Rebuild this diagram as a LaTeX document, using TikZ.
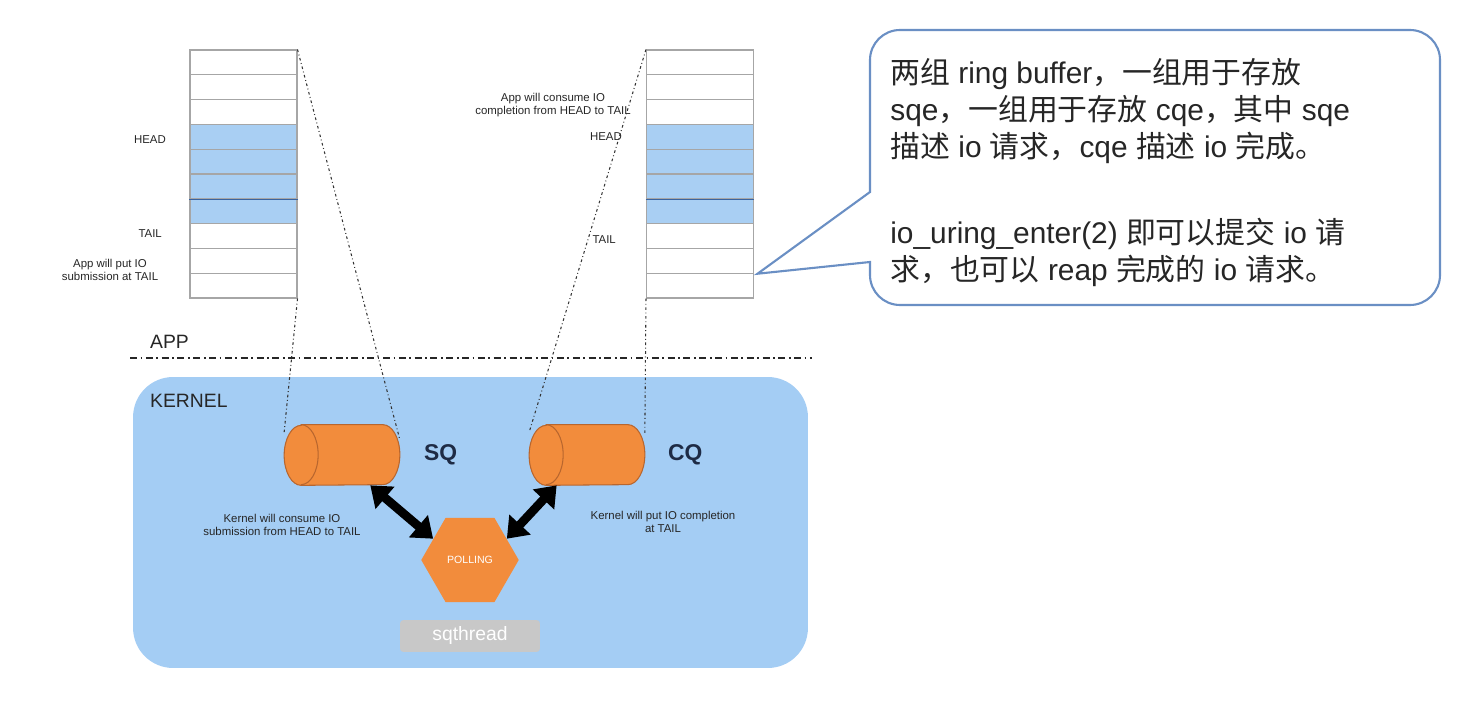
\documentclass[tikz,border=0pt]{standalone}
\usepackage{fontspec}
\setmainfont{Liberation Sans}
\newfontfamily\cjk{Noto Sans CJK SC}
\usepackage{tikz}
\usetikzlibrary{shapes.geometric, arrows.meta, positioning}
\definecolor{kernelblue}{HTML}{A4CDF4}
\definecolor{cellblue}{HTML}{A9CFF3}
\definecolor{celldark}{HTML}{3A64A0}
\definecolor{queueorange}{HTML}{F28C3C}
\definecolor{queueedge}{HTML}{B8662E}
\definecolor{navy}{HTML}{1E2B45}
\definecolor{callblue}{HTML}{6A8FC4}
\definecolor{threadgray}{HTML}{C8C8C8}

% lying cylinder drawn round a named node
\newcommand{\tube}[1]{%
  \draw[draw=queueedge, fill=queueorange, line width=0.6pt]
    ([xshift=0.34cm]#1.north west) -- ([xshift=-0.34cm]#1.north east)
    arc[start angle=90, end angle=-90, x radius=0.34cm, y radius=0.6cm]
    -- ([xshift=0.34cm]#1.south west)
    arc[start angle=-90, end angle=-270, x radius=0.34cm, y radius=0.6cm] -- cycle;
  \draw[draw=queueedge, line width=0.6pt] ([xshift=0.34cm]#1.north west)
    arc[start angle=90, end angle=-90, x radius=0.34cm, y radius=0.6cm];
}

\begin{document}
\begin{tikzpicture}[x=0.02cm, y=-0.02cm,
    cell/.style={rectangle, draw=gray!70, fill=white, line width=0.6pt, minimum width=2.14cm, minimum height=0.496cm, inner sep=0pt},
    used/.style={cell, fill=cellblue},
    tiny/.style={font=\fontsize{6.5}{7.5}\selectfont, align=center, text=black!85},
    label/.style={font=\fontsize{11}{13}\selectfont, text=black!85},
    queue/.style={rectangle, minimum width=2.3cm, minimum height=1.2cm, inner sep=0pt},
    qname/.style={font=\fontsize{13}{15}\selectfont\bfseries, text=navy, anchor=west},
    guide/.style={draw=gray!40!black, line width=0.6pt, dash pattern=on 1.5pt off 1.5pt on 0.5pt off 1.5pt},
    bigarrow/.style={{Triangle[length=11pt, width=16pt]}-{Triangle[length=11pt, width=16pt]}, line width=5pt, black},
    callout/.style={draw=callblue, line width=1.2pt, fill=white},
]
\useasboundingbox (0,0) rectangle (1471,702);

% Ring buffers
\foreach \i in {1,...,10} {
    \node[cell] (sq\i) at (243.5, 50+24.8*\i-12.4) {};
    \node[cell] (cq\i) at (700, 50+24.8*\i-12.4) {};
}
\foreach \i in {4,...,7} {
    \node[used] at (sq\i) {};
    \node[used] at (cq\i) {};
}
\draw[celldark, line width=0.8pt] (sq6.south west) -- (sq6.south east);
\draw[celldark, line width=0.8pt] (cq6.south west) -- (cq6.south east);

\node[tiny, anchor=east] (sqhead) at (172,140) {HEAD};
\node[tiny, anchor=east] (sqtail) at (168,234) {TAIL};
\node[tiny] (sqput) at (110,270) {App will put IO\\submission at TAIL};
\node[tiny] (cqeat) at (553,105) {App will consume IO\\completion from HEAD to TAIL};
\node[tiny, anchor=east] (cqhead) at (628,137) {HEAD};
\node[tiny, anchor=east] (cqtail) at (622,240) {TAIL};

% App / kernel split
\node[label, anchor=west] (app) at (144,342) {APP};
\draw[draw=gray!30!black, line width=1.1pt, dash pattern=on 4pt off 2pt on 1pt off 2pt] (130,358) -- (812,358);
\node[rectangle, rounded corners=0.8cm, fill=kernelblue, minimum width=13.5cm, minimum height=5.82cm] (kernel) at (470.5,522.5) {};
\node[label, anchor=west] (kname) at (144,401) {KERNEL};

% Queues
\node[queue] (sqq) at (342,455) {};
\node[queue] (cqq) at (587,455) {};
\tube{sqq}
\tube{cqq}
\node[qname] (sqname) at (418,455) {SQ};
\node[qname] (cqname) at (662,455) {CQ};

\draw[guide] (sq10.south east) -- ([yshift=-0.15cm]sqq.north west);
\draw[guide] (sq1.north east) -- ([yshift=-0.3cm]sqq.north east);
\draw[guide] (cq1.north west) -- ([yshift=-0.15cm]cqq.north west);
\draw[guide] (cq10.south west) -- ([yshift=-0.2cm]cqq.north east);

% Polling thread
\node[regular polygon, regular polygon sides=6, minimum size=1.95cm, fill=queueorange, text=white, inner sep=0pt, font=\fontsize{6}{7}\selectfont] (poll) at (470,560) {POLLING};
\node[rectangle, rounded corners=2pt, fill=threadgray, text=white, minimum width=2.8cm, minimum height=0.64cm, font=\fontsize{11}{13}\selectfont] (thread) at (470,636) {sqthread};

\draw[bigarrow] (sqq.-47) -- (poll.150);
\draw[bigarrow] (cqq.-135) -- (poll.30);

\node[tiny] (kconsume) at (282,525) {Kernel will consume IO\\submission from HEAD to TAIL};
\node[tiny] (kput) at (663,522) {Kernel will put IO completion\\at TAIL};

% Callout
\coordinate (tip) at ([xshift=2pt]cq9.south east);
\draw[callout] (870,192) [rounded corners=0.6cm] -- (870,30) -- (1440,30) -- (1440,305) -- (870,305) [sharp corners] -- (870,262) -- (tip) -- cycle;
\node[anchor=north west, inner sep=0pt, align=left, font=\fontsize{17}{21}\selectfont, text=black!85] (note) at (890,58) {%
{\cjk 两组} ring buffer{\cjk ，一组用于存放}\\
sqe{\cjk ，一组用于存放} cqe{\cjk ，其中} sqe\\
{\cjk 描述} io {\cjk 请求，}cqe {\cjk 描述} io {\cjk 完成。}\\[28pt]
io\_uring\_enter(2) {\cjk 即可以提交} io {\cjk 请}\\
{\cjk 求，也可以} reap {\cjk 完成的} io {\cjk 请求。}};
\end{tikzpicture}
\end{document}
